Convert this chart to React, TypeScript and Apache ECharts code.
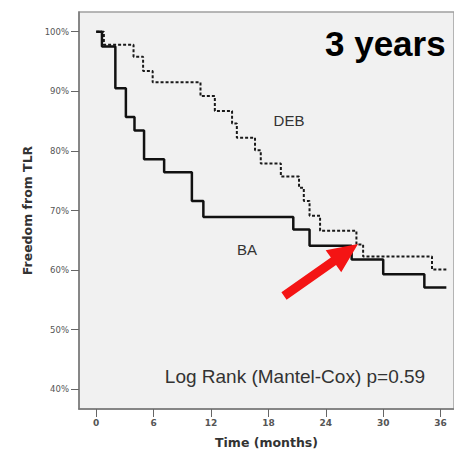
import React, { useEffect, useRef } from "react";
import * as echarts from "echarts";

const baTimes = [0, 0.6, 2.0, 3.1, 4.0, 5.0, 7.1, 10.0, 11.2, 20.6, 22.3, 26.7, 30.0, 34.3, 36.6];
const baSurv = [100, 97.5, 90.5, 85.7, 83.4, 78.6, 76.4, 71.6, 68.9, 66.8, 64.1, 61.8, 59.3, 57.1, 57.1];

const debTimes = [0, 0.8, 3.9, 4.9, 5.9, 10.9, 12.4, 14.2, 14.7, 16.6, 17.2, 19.3, 21.2, 21.7, 22.3, 23.4, 27.2, 27.9, 35.1, 36.6];
const debSurv = [100, 97.8, 95.8, 93.4, 91.5, 89.2, 86.7, 84.6, 82.2, 80.1, 77.9, 75.7, 73.8, 71.6, 69.1, 66.6, 64.3, 62.3, 60.1, 60.1];

const xTicks = [0, 6, 12, 18, 24, 30, 36];
const yTicks = [40, 50, 60, 70, 80, 90, 100];

function arrowPoints(tail: number[], tip: number[]) {
  const dx = tip[0] - tail[0];
  const dy = tip[1] - tail[1];
  const L = Math.hypot(dx, dy);
  const ux = dx / L, uy = dy / L;
  const nx = -uy, ny = ux;
  const headLen = 30, headHalf = 13.5, shaftHalf = 4.5;
  const bx = tip[0] - ux * headLen, by = tip[1] - uy * headLen;
  return [
    [tail[0] + nx * shaftHalf, tail[1] + ny * shaftHalf],
    [bx + nx * shaftHalf, by + ny * shaftHalf],
    [bx + nx * headHalf, by + ny * headHalf],
    [tip[0], tip[1]],
    [bx - nx * headHalf, by - ny * headHalf],
    [bx - nx * shaftHalf, by - ny * shaftHalf],
    [tail[0] - nx * shaftHalf, tail[1] - ny * shaftHalf],
  ];
}

export default function App() {
  const ref = useRef<HTMLDivElement>(null);
  useEffect(() => {
    document.body.style.margin = "0";
    const chart = echarts.init(ref.current!, null, { renderer: "svg" });
    const ba = baTimes.map((t, i) => [t, baSurv[i]]);
    const deb = debTimes.map((t, i) => [t, debSurv[i]]);
    chart.setOption({
      animation: false,
      backgroundColor: "#ffffff",
      grid: {
        left: 79,
        top: 12,
        right: 0,
        bottom: 41,
        show: true,
        backgroundColor: "#f1f1f1",
        borderColor: "#a0a0a0",
        borderWidth: 1.5,
      },
      xAxis: {
        type: "value",
        min: -1.8,
        max: 37.4,
        name: "Time (months)",
        nameLocation: "middle",
        nameGap: 27,
        nameTextStyle: { fontFamily: "DejaVu Sans", fontWeight: "bold", fontSize: 12.5, color: "#333" },
        splitLine: { show: false },
        axisLine: { show: true, onZero: false, lineStyle: { color: "#777", width: 1.5 } },
        axisTick: { show: true, length: 8, customValues: xTicks, lineStyle: { color: "#666" } },
        axisLabel: {
          customValues: xTicks,
          margin: 9,
          fontSize: 9,
          fontFamily: "DejaVu Sans",
          fontWeight: "bold",
          color: "#555",
        },
      },
      yAxis: {
        type: "value",
        min: 36.7,
        max: 103.3,
        name: "Freedom from TLR",
        nameLocation: "middle",
        nameGap: 45,
        nameTextStyle: { fontFamily: "DejaVu Sans", fontWeight: "bold", fontSize: 12.5, color: "#333" },
        splitLine: { show: false },
        axisLine: { show: true, onZero: false, lineStyle: { color: "#777", width: 1.5 } },
        axisTick: { show: true, length: 8, customValues: yTicks, lineStyle: { color: "#666" } },
        axisLabel: {
          customValues: yTicks,
          margin: 10,
          fontSize: 8.5,
          fontFamily: "DejaVu Sans",
          color: "#555",
          formatter: (v: number) => v + "%",
        },
      },
      series: [
        {
          name: "DEB",
          type: "line",
          step: "end",
          data: deb,
          showSymbol: false,
          lineStyle: { color: "#1a1a1a", width: 2, type: [3, 2] },
          z: 2,
        },
        {
          name: "BA",
          type: "line",
          step: "end",
          data: ba,
          showSymbol: false,
          lineStyle: { color: "#111", width: 2.5 },
          z: 3,
        },
      ],
      graphic: [
        {
          type: "text",
          x: 325,
          y: 43,
          style: {
            text: "3 years",
            fontFamily: "Liberation Sans",
            fontWeight: "bold",
            fontSize: 35,
            fill: "#000",
            verticalAlign: "middle",
          },
          z: 10,
        },
        {
          type: "text",
          x: 289,
          y: 120,
          style: { text: "DEB", fontFamily: "Liberation Sans", fontSize: 15, fill: "#333", align: "center", verticalAlign: "middle" },
        },
        {
          type: "text",
          x: 247,
          y: 249,
          style: { text: "BA", fontFamily: "Liberation Sans", fontSize: 15, fill: "#333", align: "center", verticalAlign: "middle" },
        },
        {
          type: "text",
          x: 295,
          y: 376,
          style: {
            text: "Log Rank (Mantel-Cox) p=0.59",
            fontFamily: "Liberation Sans",
            fontSize: 19,
            fill: "#333",
            align: "center",
            verticalAlign: "middle",
          },
        },
        {
          type: "polygon",
          shape: { points: arrowPoints([284, 296], [358, 244]) },
          style: { fill: "#f41414" },
          z: 20,
        },
      ],
    });
    return () => chart.dispose();
  }, []);
  return <div ref={ref} style={{ width: 454, height: 454 }} />;
}
